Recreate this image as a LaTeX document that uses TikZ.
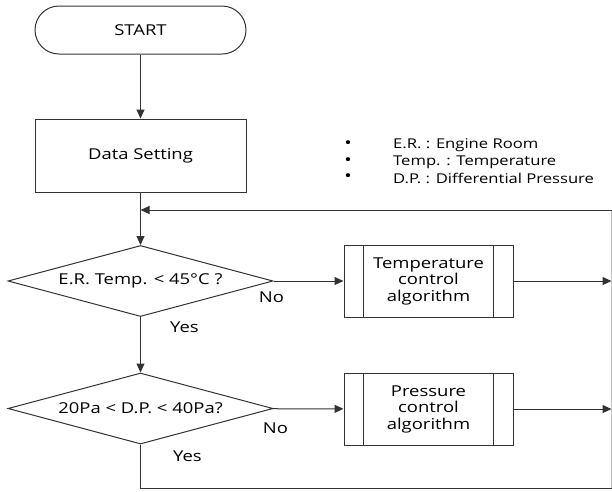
\documentclass[tikz,border=0pt]{standalone}
\usepackage{fontspec}
\setmainfont{Open Sans}[FakeStretch=1.23]
\usepackage{tikz}
\usetikzlibrary{positioning,shapes.geometric,arrows.meta}

\tikzset{
  flow/.style={draw=black!80,line width=1pt},
  arr/.style={flow,-{Triangle[length=9pt,width=8pt]}},
  terminal/.style={flow,rectangle,rounded corners=24pt,
    minimum width=211pt,minimum height=48pt,font=\fontsize{15}{16.5}\selectfont},
  procbox/.style={flow,rectangle,minimum width=211pt,minimum height=73pt,
    font=\fontsize{15}{16.5}\selectfont},
  decision/.style={flow,diamond,aspect=3.7,minimum width=265pt,minimum height=71pt,
    inner sep=0pt,font=\fontsize{15}{16.5}\selectfont},
  subproc/.style={flow,rectangle,minimum width=169pt,minimum height=72pt,
    align=center,font=\fontsize{15}{16.5}\selectfont},
  lbl/.style={font=\fontsize{15}{16.5}\selectfont},
  legend/.style={font=\fontsize{13.5}{16}\selectfont,anchor=west,inner sep=0pt},
  bullet/.style={legend,font=\fontsize{16}{16}\selectfont}
}

\begin{document}
\begin{tikzpicture}[x=1pt,y=-1pt,on grid]
  \useasboundingbox (0,0) rectangle (612,491);
  \node[terminal] (start) at (140.5,30) {START};
  \node[procbox,below=125.5pt of start] (setting) {Data Setting};
  \node[decision,below=125.5pt of setting] (ertemp) {E.R. Temp. < 45°C ?};
  \node[decision,below=127.5pt of ertemp] (dpress) {20Pa < D.P. < 40Pa?};
  \node[subproc,right=288pt of ertemp] (tempctl) {Temperature\\control\\algorithm};
  \node[subproc,below=128pt of tempctl] (pressctl) {Pressure\\control\\algorithm};
  % side bars of the sub-process boxes
  \draw[flow] ([xshift=20pt]tempctl.north west) -- ([xshift=20pt]tempctl.south west);
  \draw[flow] ([xshift=-20pt]tempctl.north east) -- ([xshift=-20pt]tempctl.south east);
  \draw[flow] ([xshift=20pt]pressctl.north west) -- ([xshift=20pt]pressctl.south west);
  \draw[flow] ([xshift=-20pt]pressctl.north east) -- ([xshift=-20pt]pressctl.south east);

  % legend
  \node[legend] (leg1) at (393,145) {E.R. : Engine Room};
  \node[legend] (leg2) at (393,162) {Temp. : Temperature};
  \node[legend] (leg3) at (393,178) {D.P. : Differential Pressure};
  \node[bullet,left=41pt of leg1.west] (bul1) {•};
  \node[bullet,left=41pt of leg2.west] (bul2) {•};
  \node[bullet,left=41pt of leg3.west] (bul3) {•};

  % loop corners
  \coordinate (looptop) at (611.5,210);
  \coordinate (loopbot) at (611.5,488);
  \coordinate (loopin) at (setting.south |- looptop);
  \coordinate (loopout) at (dpress.south |- loopbot);

  \draw[arr] (start) -- (setting);
  \draw[arr] (setting) -- (ertemp);
  \draw[arr] (ertemp) -- (dpress);
  \draw[arr] (ertemp) -- (tempctl);
  \draw[arr] (dpress) -- (pressctl);
  \draw[arr] (tempctl) -- (tempctl.east -| looptop);
  \draw[arr] (pressctl) -- (pressctl.east -| looptop);
  \draw[flow] (dpress.south) -- (loopout) -- (loopbot);
  \draw[draw=black!25,line width=1pt] (loopbot) -- (looptop);
  \draw[arr] (looptop) -- (loopin);

  % branch labels
  \node[lbl] (no1) at ([shift={(-2,16)}]ertemp.east) {No};
  \node[lbl] (yes1) at ([shift={(44,10)}]ertemp.south) {Yes};
  \node[lbl] (no2) at ([shift={(2,20)}]dpress.east) {No};
  \node[lbl] (yes2) at ([shift={(47,12)}]dpress.south) {Yes};
\end{tikzpicture}
\end{document}
